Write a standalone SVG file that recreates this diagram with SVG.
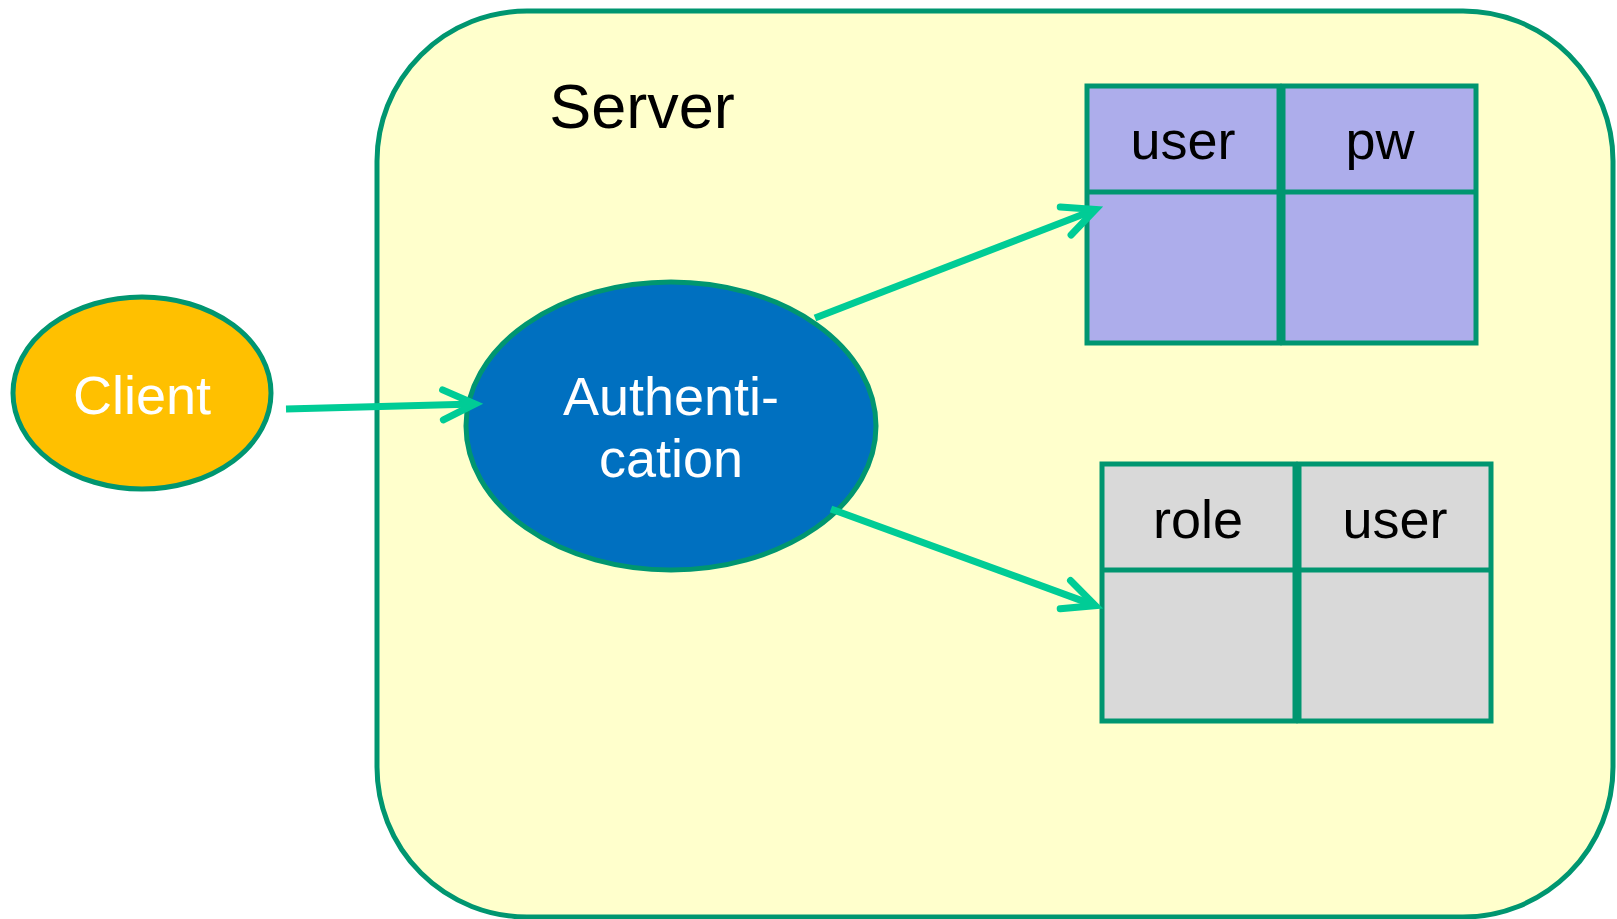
<svg xmlns="http://www.w3.org/2000/svg" width="1617" height="919" viewBox="0 0 1617 919">
  <style>
    .edge { stroke: #009670; stroke-width: 5; }
    .label { font-family: "Liberation Sans", Arial, sans-serif; text-anchor: middle; }
    .light { fill: #ffffff; }
    .dark { fill: #000000; }
    .conn { stroke: #00cc96; stroke-width: 7; fill: none; }
  </style>
  <defs>
    <marker id="head" markerUnits="userSpaceOnUse" viewBox="-45 -25 55 50" markerWidth="55" markerHeight="50" refX="0" refY="0" orient="auto" overflow="visible">
      <path d="M -32 -15 L 0 0 L -32 15" fill="none" stroke="#00cc96" stroke-width="7" stroke-linecap="round" stroke-linejoin="miter"/>
    </marker>
  </defs>

  <g id="server">
    <rect x="377" y="11" width="1236" height="906" rx="150" ry="150" fill="#ffffcc" class="edge"/>
    <text x="642" y="128" class="label dark" font-size="63">Server</text>
  </g>

  <g id="client">
    <ellipse cx="142" cy="393" rx="129" ry="96" fill="#ffc000" class="edge"/>
    <text x="142" y="414" class="label light" font-size="54">Client</text>
  </g>

  <g id="authentication">
    <ellipse cx="671" cy="426" rx="205" ry="144" fill="#0070c0" class="edge"/>
    <text x="671" y="415" class="label light" font-size="54">Authenti-</text>
    <text x="671" y="477" class="label light" font-size="54">cation</text>
  </g>

  <g id="user-pw-table">
    <rect x="1087" y="86" width="192" height="257" fill="#adadeb" class="edge"/>
    <rect x="1283" y="86" width="193" height="257" fill="#adadeb" class="edge"/>
    <line x1="1087" y1="192" x2="1279" y2="192" class="edge"/>
    <line x1="1283" y1="192" x2="1476" y2="192" class="edge"/>
    <text x="1183" y="159" class="label dark" font-size="54">user</text>
    <text x="1380" y="159" class="label dark" font-size="54">pw</text>
  </g>

  <g id="role-user-table">
    <rect x="1102" y="464" width="193" height="257" fill="#d9d9d9" class="edge"/>
    <rect x="1299" y="464" width="192" height="257" fill="#d9d9d9" class="edge"/>
    <line x1="1102" y1="570" x2="1295" y2="570" class="edge"/>
    <line x1="1299" y1="570" x2="1491" y2="570" class="edge"/>
    <text x="1198" y="538" class="label dark" font-size="54">role</text>
    <text x="1395" y="538" class="label dark" font-size="54">user</text>
  </g>

  <g id="connectors">
    <line x1="286" y1="409" x2="475" y2="404" class="conn" marker-end="url(#head)"/>
    <line x1="815" y1="318" x2="1095.5" y2="209.5" class="conn" marker-end="url(#head)"/>
    <line x1="831" y1="509" x2="1095.4" y2="605.6" class="conn" marker-end="url(#head)"/>
  </g>
</svg>
